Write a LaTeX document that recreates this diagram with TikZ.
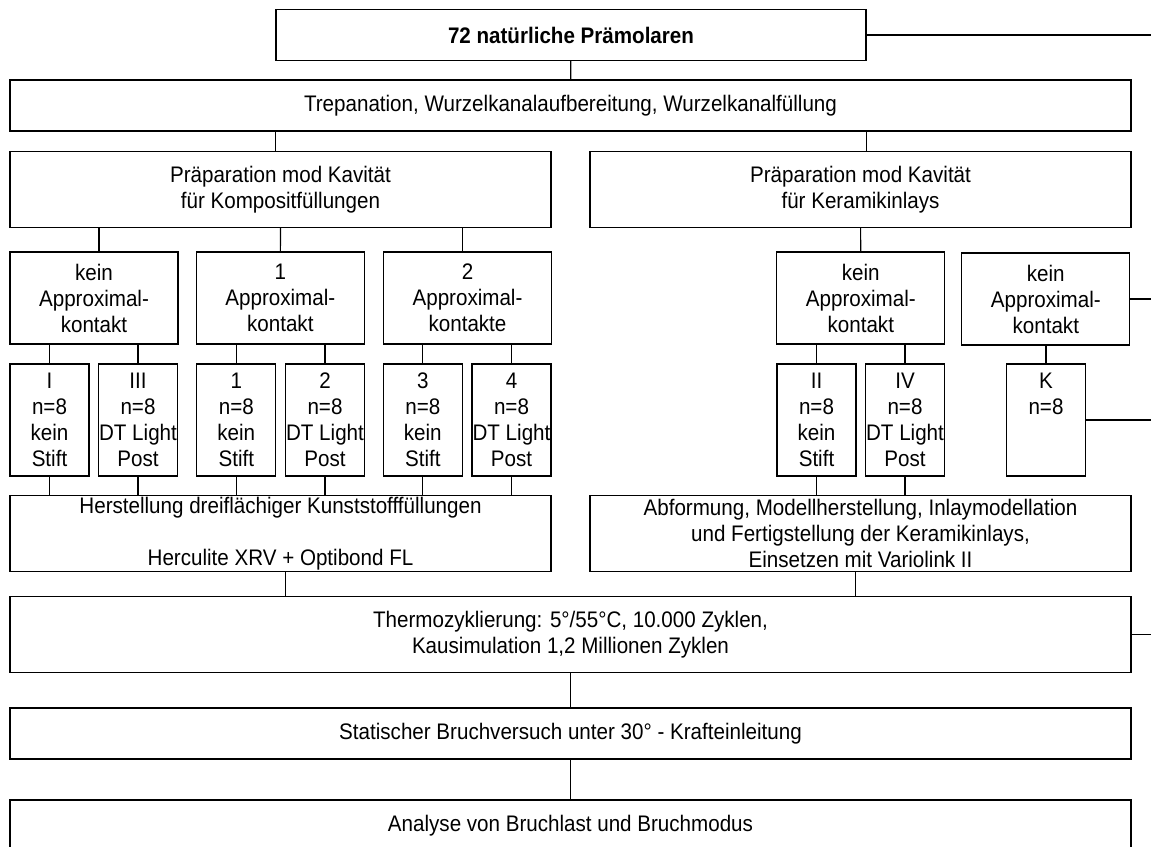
\documentclass[tikz,border=0pt]{standalone}
\usepackage{fontspec}
\setmainfont{Liberation Sans}[FakeStretch=0.915]
\usetikzlibrary{positioning, calc}
\tikzset{
    font=\fontsize{22.5}{26}\selectfont,
    stage/.style={rectangle, draw=black, line width=1.3pt, align=center, inner sep=0pt, minimum width=1121, minimum height=51},
    halfbox/.style={stage, minimum width=541, minimum height=76},
    contact/.style={stage, minimum width=168, minimum height=92},
    cohort/.style={stage, minimum width=79, minimum height=112},
    link/.style={line width=1.2pt, color=black}
}

\begin{document}
\begin{tikzpicture}[x=1pt, y=-1pt]

    % Frame
    \clip (0,0) rectangle (1151,846);
    \coordinate (rim) at (1151,0);

    % Start
    \node (teeth) [stage, minimum width=590, font=\fontsize{22.5}{26}\selectfont\bfseries] at (571,35) {72 natürliche Prämolaren};
    \node (trep) [stage] at (570.5,105.5) {Trepanation, Wurzelkanalaufbereitung, Wurzelkanalfüllung};

    % Preparation
    \node (komp) [halfbox] at (280.5,189.5) {Präparation mod Kavität\\für Kompositfüllungen};
    \node (kera) [halfbox] at (860.5,189.5) {Präparation mod Kavität\\für Keramikinlays};

    % Contacts
    \node (kein1) [contact] at (94,298) {kein\\Approximal-\\kontakt};
    \node (eins)  [contact] at (280.3,298) {1\\Approximal-\\kontakt};
    \node (zwei)  [contact] at (467.5,298) {2\\Approximal-\\kontakte};
    \node (kein2) [contact] at (860.8,298) {kein\\Approximal-\\kontakt};
    \node (kein3) [contact] at (1045.8,299) {kein\\Approximal-\\kontakt};

    % Groups
    \node (gI)   [cohort] at (49.5,420)  {I\\n=8\\kein\\Stift};
    \node (gIII) [cohort] at (138,420)   {III\\n=8\\DT Light\\Post};
    \node (g1)   [cohort] at (236.3,420) {1\\n=8\\kein\\Stift};
    \node (g2)   [cohort] at (325,420)   {2\\n=8\\DT Light\\Post};
    \node (g3)   [cohort] at (422.8,420) {3\\n=8\\kein\\Stift};
    \node (g4)   [cohort] at (511.5,420) {4\\n=8\\DT Light\\Post};
    \node (gII)  [cohort] at (816.5,420) {II\\n=8\\kein\\Stift};
    \node (gIV)  [cohort] at (905,420)   {IV\\n=8\\DT Light\\Post};
    \node (gK)   [cohort] at (1046,420)  {K\\n=8\\[26pt]\mbox{}};

    % Restorations
    \node (herst) [halfbox] at (280.5,533.7) {Herstellung dreiflächiger Kunststofffüllungen\\[26pt]Herculite XRV + Optibond FL};
    \node (abf)   [halfbox] at (860.5,533.7) {Abformung, Modellherstellung, Inlaymodellation\\und Fertigstellung der Keramikinlays,\\Einsetzen mit Variolink II};

    % Testing
    \node (thermo) [stage, minimum height=76] at (570.5,634.7) {Thermozyklierung: 5°/55°C, 10.000 Zyklen,\\Kausimulation 1,2 Millionen Zyklen};
    \node (bruch)  [stage] at (570.5,733.6) {Statischer Bruchversuch unter 30° - Krafteinleitung};
    \node (analyse) [stage, minimum height=52] at (570.5,826) {Analyse von Bruchlast und Bruchmodus};

    % Paths: top
    \draw [link] (teeth) -- (trep);
    \draw [link] (trep.south -| teeth.west) -- (komp.north -| teeth.west);
    \draw [link] (trep.south -| teeth.east) -- (kera.north -| teeth.east);

    % Paths: contacts
    \draw [link] ([xshift=5pt]kein1.north) -- ([xshift=5pt]kein1.north |- komp.south);
    \draw [link] (eins) -- (komp);
    \draw [link] ([xshift=-5pt]zwei.north) -- ([xshift=-5pt]zwei.north |- komp.south);
    \draw [link] (kein2) -- (kera);

    % Paths: groups
    \foreach \c/\g in {kein1/gI, kein1/gIII, eins/g1, eins/g2, zwei/g3, zwei/g4, kein2/gII, kein2/gIV, kein3/gK}
        \draw [link] (\g.north) -- (\g.north |- \c.south);
    \foreach \g in {gI, gIII, g1, g2, g3, g4}
        \draw [link] (\g.south) -- (\g.south |- herst.north);
    \foreach \g in {gII, gIV}
        \draw [link] (\g.south) -- (\g.south |- abf.north);

    % Paths: testing
    \draw [link] ([xshift=5pt]herst.south) -- ([xshift=5pt]herst.south |- thermo.north);
    \draw [link] ([xshift=-5pt]abf.south) -- ([xshift=-5pt]abf.south |- thermo.north);
    \draw [link] (thermo) -- (bruch);
    \draw [link] (bruch) -- (analyse);

    % Paths: to the right
    \foreach \n in {teeth, kein3, gK, thermo}
        \draw [link] (\n.east) -- (\n.east -| rim);

\end{tikzpicture}
\end{document}
